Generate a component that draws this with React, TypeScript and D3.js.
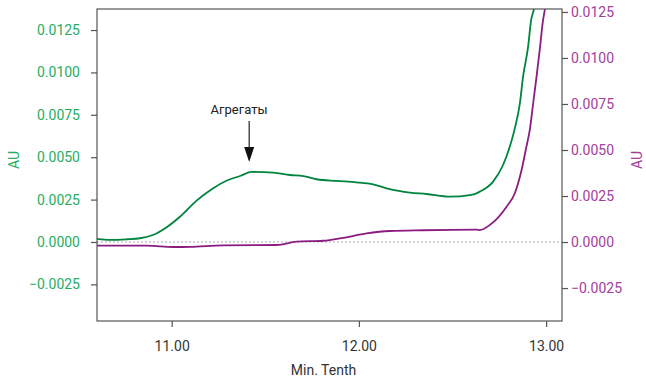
import React, { useEffect, useRef } from "react";
import * as d3 from "d3";

// chromatogram traces
const greenTime = [10.6, 10.671, 10.76, 10.831, 10.9, 10.973, 11.044, 11.133, 11.222, 11.292, 11.365, 11.427, 11.542, 11.632, 11.703, 11.774, 11.881, 11.988, 12.076, 12.165, 12.272, 12.361, 12.486, 12.593, 12.628, 12.646, 12.717, 12.77, 12.806, 12.833, 12.86, 12.877, 12.904, 12.92, 12.934, 12.95];
const greenAU = [0.00018, 0.00012, 0.00016, 0.00022, 0.00041, 0.00087, 0.00149, 0.00244, 0.00317, 0.00361, 0.00389, 0.00413, 0.00409, 0.00395, 0.00389, 0.0037, 0.0036, 0.00352, 0.0034, 0.00311, 0.00291, 0.00283, 0.00267, 0.00277, 0.00287, 0.00297, 0.00356, 0.00454, 0.00562, 0.0067, 0.00818, 0.00975, 0.01152, 0.01309, 0.01368, 0.0146];

const purpleTime = [10.6, 10.867, 11.009, 11.098, 11.275, 11.561, 11.667, 11.809, 11.916, 12.041, 12.165, 12.343, 12.628, 12.646, 12.699, 12.789, 12.833, 12.869, 12.895, 12.913, 12.931, 12.949, 12.966, 12.984, 12.993, 13.0];
const purpleAU = [-0.0002, -0.0002, -0.00027, -0.00026, -0.00018, -0.00016, 0.00002, 0.00007, 0.00023, 0.00047, 0.0006, 0.00064, 0.00067, 0.00065, 0.00092, 0.00192, 0.00265, 0.00391, 0.00518, 0.00609, 0.00754, 0.00898, 0.01044, 0.01207, 0.01261, 0.0132];

const xTicks = [11, 12, 13];
const yTicks = [-0.0025, 0, 0.0025, 0.005, 0.0075, 0.01, 0.0125];

const GREEN = "#00843f";
const GREEN_TXT = "#27ad63";
const PURPLE = "#8c1c80";
const PURPLE_TXT = "#a2409a";
const FONT = "Roboto, 'Noto Sans', sans-serif";

const App = () => {
  const svgRef = useRef<SVGSVGElement>(null);

  useEffect(() => {
    document.body.style.margin = "0";
    const W = 646;
    const H = 382;
    const margin = { top: 9, right: 84, bottom: 61, left: 97 };
    const width = W - margin.left - margin.right;
    const height = H - margin.top - margin.bottom;

    const root = d3.select(svgRef.current);
    root.selectAll("*").remove();
    const svg = root
      .attr("width", W)
      .attr("height", H)
      .append("g")
      .attr("transform", `translate(${margin.left},${margin.top})`);

    const x = d3.scaleLinear().domain([10.601, 13.085]).range([0, width]);
    const yL = d3.scaleLinear().domain([-0.00466, 0.01374]).range([height, 0]);
    const yR = d3.scaleLinear().domain([-0.00429, 0.01266]).range([height, 0]);

    svg
      .append("clipPath")
      .attr("id", "plotclip")
      .append("rect")
      .attr("width", width)
      .attr("height", height);

    // zero reference
    svg
      .append("line")
      .attr("x1", 0)
      .attr("x2", width)
      .attr("y1", yL(0))
      .attr("y2", yL(0))
      .attr("stroke", "#aaa")
      .attr("stroke-width", 1)
      .attr("stroke-dasharray", "2,2");

    const greenData = greenTime.map((t, i) => [t, greenAU[i]] as [number, number]);
    const purpleData = purpleTime.map((t, i) => [t, purpleAU[i]] as [number, number]);

    const lineL = d3
      .line<[number, number]>()
      .x((d) => x(d[0]))
      .y((d) => yL(d[1]))
      .curve(d3.curveMonotoneX);
    const lineR = d3
      .line<[number, number]>()
      .x((d) => x(d[0]))
      .y((d) => yR(d[1]))
      .curve(d3.curveMonotoneX);

    const plot = svg.append("g").attr("clip-path", "url(#plotclip)");
    plot
      .append("path")
      .datum(purpleData)
      .attr("d", lineR)
      .attr("fill", "none")
      .attr("stroke", PURPLE)
      .attr("stroke-width", 1.8);
    plot
      .append("path")
      .datum(greenData)
      .attr("d", lineL)
      .attr("fill", "none")
      .attr("stroke", GREEN)
      .attr("stroke-width", 1.8);

    // frame
    svg
      .append("rect")
      .attr("width", width)
      .attr("height", height)
      .attr("fill", "none")
      .attr("stroke", "#555")
      .attr("stroke-width", 1.2);

    const styleAxis = (g, color) => {
      g.select(".domain").remove();
      g.selectAll(".tick line").attr("stroke", "#555").attr("stroke-width", 1.2);
      g.selectAll(".tick text")
        .attr("fill", color)
        .style("font-family", FONT)
        .style("font-size", "14px");
    };

    svg
      .append("g")
      .attr("transform", `translate(0,${height})`)
      .call(d3.axisBottom(x).tickValues(xTicks).tickFormat(d3.format(".2f")).tickSize(6).tickPadding(14))
      .call((g) => styleAxis(g, "#333"));

    svg
      .append("g")
      .call(d3.axisLeft(yL).tickValues(yTicks).tickFormat(d3.format(".4f")).tickSize(6).tickPadding(11))
      .call((g) => styleAxis(g, GREEN_TXT));

    svg
      .append("g")
      .attr("transform", `translate(${width},0)`)
      .call(d3.axisRight(yR).tickValues(yTicks).tickFormat(d3.format(".4f")).tickSize(6).tickPadding(3))
      .call((g) => styleAxis(g, PURPLE_TXT));

    // axis titles
    svg
      .append("text")
      .attr("x", width / 2 - 6)
      .attr("y", height + 54)
      .attr("text-anchor", "middle")
      .attr("fill", "#333")
      .style("font-family", FONT)
      .style("font-size", "14px")
      .text("Min. Tenth");

    svg
      .append("text")
      .attr("transform", `translate(${-78},${151}) rotate(-90)`)
      .attr("text-anchor", "middle")
      .attr("fill", GREEN_TXT)
      .style("font-family", FONT)
      .style("font-size", "14px")
      .text("AU");

    svg
      .append("text")
      .attr("transform", `translate(${width + 80},${151}) rotate(-90)`)
      .attr("text-anchor", "middle")
      .attr("fill", PURPLE_TXT)
      .style("font-family", FONT)
      .style("font-size", "14px")
      .text("AU");

    // annotation
    const ax = x(11.414);
    svg
      .append("text")
      .attr("x", x(11.36))
      .attr("y", yL(0.00755))
      .attr("text-anchor", "middle")
      .attr("fill", "#222")
      .style("font-family", FONT)
      .style("font-size", "13px")
      .text("Агрегаты");
    svg
      .append("line")
      .attr("x1", ax)
      .attr("x2", ax)
      .attr("y1", yL(0.00713))
      .attr("y2", yL(0.0053))
      .attr("stroke", "#222")
      .attr("stroke-width", 1.2);
    const tip = yL(0.00472);
    svg
      .append("path")
      .attr("d", `M${ax - 5},${tip - 15}L${ax + 5},${tip - 15}L${ax},${tip}Z`)
      .attr("fill", "#111");
  }, []);

  return <svg ref={svgRef}></svg>;
};

export default App;
